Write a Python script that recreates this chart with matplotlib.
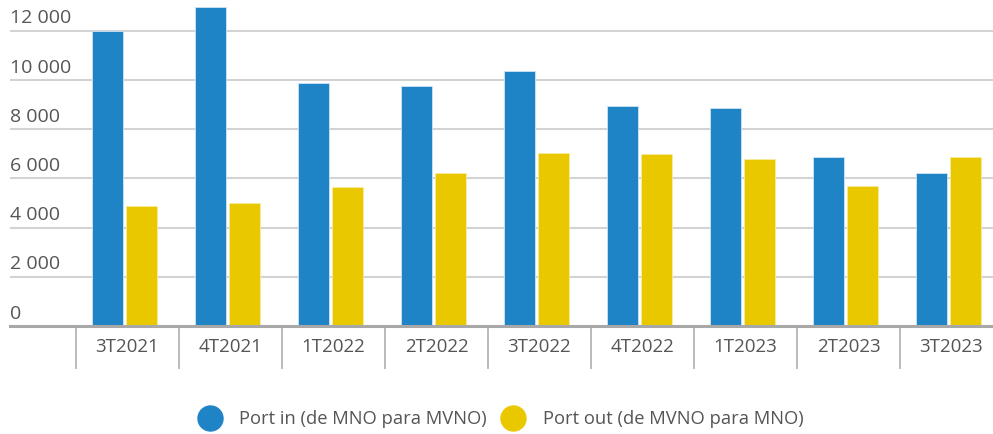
import matplotlib
matplotlib.use("Agg")
import matplotlib.pyplot as plt
from matplotlib.lines import Line2D
from matplotlib.transforms import blended_transform_factory
import numpy as np

categories = ["3T2021", "4T2021", "1T2022", "2T2022", "3T2022", "4T2022", "1T2023", "2T2023", "3T2023"]
port_in = [12000, 12960, 9880, 9770, 10370, 8950, 8870, 6880, 6210]
port_out = [4890, 4990, 5660, 6230, 7030, 7000, 6770, 5710, 6890]
yticks = [0, 2000, 4000, 6000, 8000, 10000, 12000]
ytick_labels = ["0", "2 000", "4 000", "6 000", "8 000", "10 000", "12 000"]
series_names = ["Port in (de MNO para MVNO)", "Port out (de MVNO para MNO)"]

BLUE = "#1e84c6"
YELLOW = "#eac800"
TEXT = "#555555"
plt.rcParams['font.family'] = ['Open Sans', 'DejaVu Sans']

W, H = 993, 434
fig = plt.figure(figsize=(W / 100, H / 100), dpi=100)
ax_left, ax_right, ax_bottom, ax_top = 10, 993, 326, 0
ax = fig.add_axes([ax_left / W, (H - ax_bottom) / H, (ax_right - ax_left) / W, (ax_bottom - ax_top) / H])

px_per_cat = 103.0
xmin = -0.5 - (76 - ax_left) / px_per_cat
xmax = xmin + (ax_right - ax_left) / px_per_cat
ax.set_xlim(xmin, xmax)
px_per_unit = 49.2 / 2000
ax.set_ylim(0, (ax_bottom - ax_top) / px_per_unit)

x = np.arange(len(categories))
bw = 0.30
off = 0.165
shift = -0.025
ax.bar(x + shift - off, port_in, width=bw, color=BLUE, edgecolor="#cfe3f3", linewidth=0.6, zorder=3)
ax.bar(x + shift + off, port_out, width=bw, color=YELLOW, edgecolor="#f7ec9e", linewidth=0.6, zorder=3)

# gridlines
for yt in yticks[1:]:
    ax.axhline(yt, color="#d3d3d3", linewidth=1.5, zorder=1)
ax.axhline(0, color="#a8a8a8", linewidth=2.2, zorder=4, clip_on=False)

# y labels
for yt, lab in zip(yticks, ytick_labels):
    ax.annotate(lab, xy=(0, yt), xycoords=ax.get_yaxis_transform(),
                xytext=(0, 5.3), textcoords="offset points",
                ha="left", va="baseline", fontsize=14, color=TEXT)

# category separators and labels
trans = blended_transform_factory(ax.transData, ax.transAxes)
sep_bottom = -42 / (ax_bottom - ax_top)
for i in range(len(categories)):
    ax.plot([i - 0.5, i - 0.5], [0, sep_bottom], transform=trans, color="#b5b5b5",
            linewidth=1.3, clip_on=False)
    ax.text(i, -21 / (ax_bottom - ax_top), categories[i], transform=trans,
            ha="center", va="center", fontsize=13.5, color=TEXT)

for s in ax.spines.values():
    s.set_visible(False)
ax.set_xticks([])
ax.set_yticks([])

handles = [Line2D([], [], marker="o", linestyle="none", markersize=18, color=BLUE),
           Line2D([], [], marker="o", linestyle="none", markersize=18, color=YELLOW)]
fig.legend(handles, series_names, loc="center", bbox_to_anchor=(502 / W, (H - 419) / H),
           ncol=2, frameon=False, fontsize=13.2, labelcolor=TEXT,
           handletextpad=1.1, columnspacing=0.95, handlelength=1.0)

fig.savefig("out.png", dpi=100)
